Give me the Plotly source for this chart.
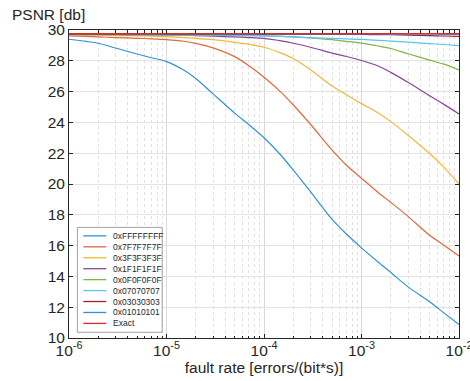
import plotly.graph_objects as go

# ---------------- data ----------------
fault_rate = [1e-6, 1.5e-6, 2e-6, 3e-6, 5e-6, 7e-6,
              1e-5, 1.5e-5, 2e-5, 3e-5, 5e-5, 7e-5,
              1e-4, 1.5e-4, 2e-4, 3e-4, 5e-4, 7e-4,
              1e-3, 1.5e-3, 2e-3, 3e-3, 5e-3, 7e-3,
              1e-2]

psnr_FFFFFFFF = [29.40, 29.26, 29.14, 28.83, 28.44, 28.20,
                 27.95, 27.40, 26.85, 25.85, 24.60, 23.85,
                 23.00, 21.85, 20.90, 19.50, 17.70, 16.75,
                 15.85, 14.90, 14.25, 13.32, 12.35, 11.63,
                 10.88]
psnr_7F7F7F7F = [29.62, 29.58, 29.55, 29.51, 29.46, 29.43,
                 29.38, 29.27, 29.13, 28.84, 28.27, 27.68,
                 26.93, 25.95, 25.13, 23.88, 22.20, 21.22,
                 20.37, 19.42, 18.80, 17.90, 16.67, 16.02,
                 15.33]
psnr_3F3F3F3F = [29.68, 29.67, 29.66, 29.64, 29.62, 29.60,
                 29.57, 29.51, 29.46, 29.37, 29.20, 29.07,
                 28.88, 28.50, 28.15, 27.42, 26.36, 25.80,
                 25.22, 24.60, 24.05, 23.17, 21.98, 21.10,
                 20.00]
psnr_1F1F1F1F = [29.72, 29.72, 29.72, 29.71, 29.70, 29.69,
                 29.68, 29.66, 29.64, 29.60, 29.55, 29.51,
                 29.45, 29.29, 29.14, 28.88, 28.50, 28.28,
                 28.02, 27.65, 27.25, 26.60, 25.73, 25.17,
                 24.55]
psnr_0F0F0F0F = [29.70, 29.70, 29.70, 29.69, 29.69, 29.68,
                 29.68, 29.67, 29.66, 29.65, 29.64, 29.63,
                 29.62, 29.59, 29.56, 29.49, 29.37, 29.26,
                 29.15, 28.96, 28.80, 28.46, 28.04, 27.78,
                 27.41]
psnr_07070707 = [29.72, 29.72, 29.72, 29.71, 29.71, 29.70,
                 29.70, 29.69, 29.68, 29.67, 29.65, 29.64,
                 29.62, 29.58, 29.55, 29.50, 29.45, 29.42,
                 29.39, 29.33, 29.28, 29.21, 29.12, 29.06,
                 28.99]
psnr_03030303 = [29.72, 29.72, 29.72, 29.72, 29.72, 29.72,
                 29.72, 29.72, 29.72, 29.72, 29.72, 29.72,
                 29.72, 29.72, 29.72, 29.72, 29.72, 29.71,
                 29.71, 29.70, 29.69, 29.67, 29.63, 29.61,
                 29.58]
psnr_01010101 = [29.74, 29.74, 29.74, 29.74, 29.74, 29.74,
                 29.74, 29.74, 29.74, 29.74, 29.74, 29.74,
                 29.74, 29.74, 29.74, 29.74, 29.74, 29.74,
                 29.74, 29.74, 29.73, 29.73, 29.73, 29.72,
                 29.72]
psnr_exact = [29.76] * 25

series_names = ["0xFFFFFFFF", "0x7F7F7F7F", "0x3F3F3F3F", "0x1F1F1F1F", "0x0F0F0F0F",
                "0x07070707", "0x03030303", "0x01010101", "Exact"]
series_values = [psnr_FFFFFFFF, psnr_7F7F7F7F, psnr_3F3F3F3F, psnr_1F1F1F1F, psnr_0F0F0F0F,
                 psnr_07070707, psnr_03030303, psnr_01010101, psnr_exact]
series_colors = ["#2f92d4", "#e0683a", "#efb83a", "#8a449c", "#80b444",
                 "#5cc4ef", "#a3203c", "#2f92d4", "#e02a2a"]

x_tickvals = [1e-6, 1e-5, 1e-4, 1e-3, 1e-2]
x_ticktext = ["10<sup>-6</sup>", "10<sup>-5</sup>", "10<sup>-4</sup>", "10<sup>-3</sup>", "10<sup>-2</sup>"]
y_tickvals = [10, 12, 14, 16, 18, 20, 22, 24, 26, 28, 30]

FONT = "Liberation Sans, Arial, Helvetica, sans-serif"

fig = go.Figure()
for name, vals, col in zip(series_names, series_values, series_colors):
    fig.add_trace(go.Scatter(x=fault_rate, y=vals, mode="lines", name=name,
                             line=dict(color=col, width=1.2, shape="spline", smoothing=0.8),
                             showlegend=False))

W, H = 470, 381
ml, mr, mt, mb = 68.6, 10.6, 29.5, 43.3
pw, ph = W - ml - mr, H - mt - mb

def px2paper(px, py):
    return (px - ml) / pw, (H - mb - py) / ph

# ---- manual legend (compact like MATLAB) ----
shapes = []
annotations = []
bx0, by0 = px2paper(77, 227)
bx1, by1 = px2paper(162, 332)
shapes.append(dict(type="rect", xref="paper", yref="paper", x0=bx0, y0=by1, x1=bx1, y1=by0,
                   line=dict(color="#8a8a8a", width=0.8), fillcolor="white", layer="above"))
row0, rowgap = 235.5, 10.95
for i, (name, col) in enumerate(zip(series_names, series_colors)):
    ry = row0 + i * rowgap
    lx0, ly = px2paper(83, ry)
    lx1, _ = px2paper(106, ry)
    tx, _ = px2paper(111, ry)
    shapes.append(dict(type="line", xref="paper", yref="paper", x0=lx0, x1=lx1, y0=ly, y1=ly,
                       line=dict(color=col, width=1.3), layer="above"))
    annotations.append(dict(xref="paper", yref="paper", x=tx, y=ly, text=name, showarrow=False,
                            xanchor="left", yanchor="middle",
                            font=dict(family=FONT, size=8.5, color="#262626")))

# y-axis title placed above the axis (MATLAB style)
tpx, tpy = px2paper(48, 14)
annotations.append(dict(xref="paper", yref="paper", x=tpx, y=tpy,
                        text="PSNR [db]", showarrow=False, xanchor="center", yanchor="middle",
                        font=dict(family=FONT, size=15.5, color="#262626")))

fig.update_layout(
    width=W, height=H,
    margin=dict(l=ml, r=mr, t=mt, b=mb),
    paper_bgcolor="white", plot_bgcolor="white",
    font=dict(family=FONT, size=15.5, color="#262626"),
    shapes=shapes, annotations=annotations,
    showlegend=False,
)
fig.update_xaxes(
    type="log", range=[-6.0001, -1.9999],
    tickvals=x_tickvals, ticktext=x_ticktext,
    ticks="inside", ticklen=4, tickcolor="#262626",
    ticklabelstandoff=-2, ticklabeloverflow="allow",
    showline=True, linecolor="#262626", linewidth=1, mirror="ticks",
    showgrid=True, gridcolor="#d9d9d9", gridwidth=0.8,
    minor=dict(dtick="D1", ticks="inside", ticklen=2.5, tickcolor="#262626",
               showgrid=True, gridcolor="#e0e0e0", griddash="dot", gridwidth=0.8),
    title=dict(text="fault rate [errors/(bit*s)]", font=dict(family=FONT, size=15.5), standoff=2),
    tickfont=dict(family=FONT, size=15.5, color="#262626"),
    zeroline=False, automargin=False,
)
fig.update_yaxes(
    range=[10, 30], tickvals=y_tickvals,
    ticks="inside", ticklen=4, tickcolor="#262626",
    showline=True, linecolor="#262626", linewidth=1, mirror="ticks",
    showgrid=True, gridcolor="#e3e3e3", gridwidth=1,
    tickfont=dict(family=FONT, size=15.5, color="#262626"),
    zeroline=False, automargin=False,
)

fig.write_html("out.html",
               config={"displayModeBar": False},
               post_script="document.body.style.margin='0';document.body.style.overflow='hidden';")
